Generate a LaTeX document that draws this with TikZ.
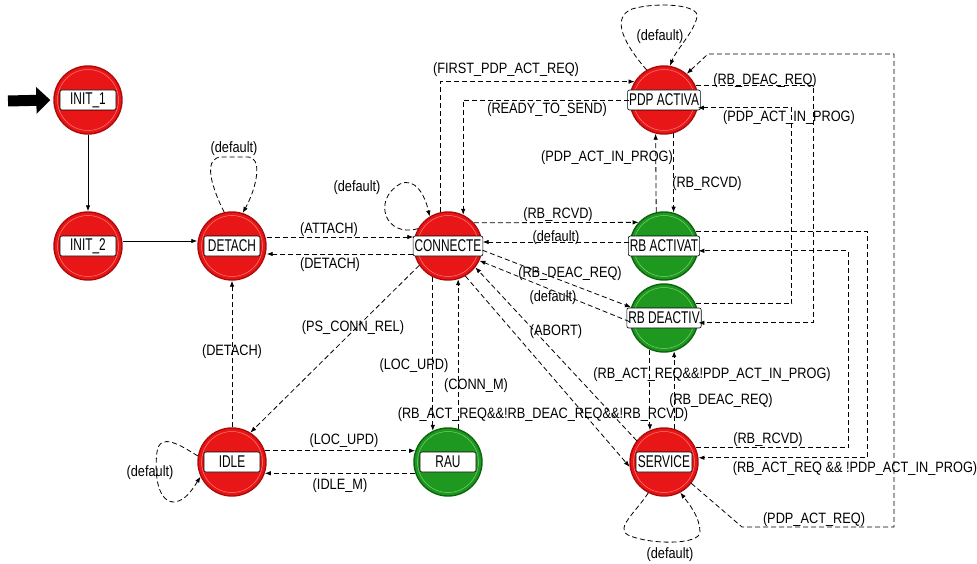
\documentclass[tikz,border=0pt]{standalone}
\usepackage{fontspec}
\setmainfont{Liberation Sans}
\usetikzlibrary{arrows.meta}
\definecolor{stred}{RGB}{232,22,22}
\definecolor{stredd}{RGB}{175,10,10}
\definecolor{stredl}{RGB}{255,125,125}
\definecolor{stgrn}{RGB}{30,152,30}
\definecolor{stgrnd}{RGB}{12,100,12}
\definecolor{stgrnl}{RGB}{120,210,120}
\newcommand\lbl[1]{\scalebox{0.85}[1]{#1}}
\newcommand\mkstate[5]{%
  \node[#4st] (#1) at (#2,#3) {};
  \draw[#4ring] (#1.center) circle[radius=30.5pt];
  \node[band] (#1-band) at (#1.center) {\scalebox{0.7}[1]{#5}};
}
\newcommand\elab[4]{\node[lab] (#1) at (#2,#3) {\lbl{#4}};}
\begin{document}
\begin{tikzpicture}[x=1pt,y=-1pt,
  redst/.style={circle, minimum size=68pt, inner sep=0pt, fill=stred, draw=stredd, line width=1.4pt},
  redring/.style={draw=stredl, line width=0.5pt},
  grnst/.style={circle, minimum size=68pt, inner sep=0pt, fill=stgrn, draw=stgrnd, line width=1.4pt},
  grnring/.style={draw=stgrnl, line width=0.5pt},
  band/.style={rectangle, rounded corners=2pt, fill=white, draw=black, line width=0.6pt,
    minimum width=56pt, minimum height=20pt, inner xsep=1.5pt, inner ysep=0pt,
    font=\fontsize{17}{18}\selectfont},
  lab/.style={inner sep=0pt, font=\fontsize{15}{17}\selectfont},
  dedge/.style={line width=0.8pt, dash pattern=on 5pt off 3pt, -{Latex[length=6pt,width=4.5pt]}},
  sedge/.style={line width=0.8pt, -{Latex[length=6pt,width=4.5pt]}},
]
\useasboundingbox[fill=white] (0,0) rectangle (977,564);

% states
\mkstate{init1}{88}{100}{red}{INIT\_1}
\mkstate{init2}{88}{246}{red}{INIT\_2}
\mkstate{detach}{232}{246}{red}{DETACH}
\mkstate{conn}{448}{246}{red}{CONNECTE}
\mkstate{pdp}{664}{100}{red}{PDP ACTIVA}
\mkstate{rbact}{664}{246}{grn}{RB ACTIVAT}
\mkstate{rbdeac}{664}{318}{grn}{RB DEACTIV}
\mkstate{idle}{232}{462}{red}{IDLE}
\mkstate{rau}{448}{462}{grn}{RAU}
\mkstate{service}{664}{462}{red}{SERVICE}

% initial arrow
\coordinate (start) at (8,101);
\draw[line width=11pt, -{Triangle[length=14pt,width=26pt]}] (start) -- ([xshift=-3pt]init1.west);

% connectors
\draw[sedge] (init1) -- (init2);
\draw[sedge] ([yshift=5pt]init2.east) -- ([yshift=5pt]detach.west);
\draw[dedge] (detach.103) .. controls (208,180) and (205,157) .. (222,157) -- (248,157) .. controls (262,157) and (258,185) .. (detach.72);
\draw[dedge] ([yshift=9pt]detach.east) -- ([yshift=9pt]conn.west);
\draw[dedge] ([yshift=-8pt]conn.west) -- ([yshift=-8pt]detach.east);
\draw[dedge] (conn.150) .. controls (385,238) and (372,200) .. (400,184) .. controls (415,177) and (425,195) .. (conn.122);
\draw[dedge] (idle) -- (detach);
\draw[dedge] (conn.214) -- (idle.58);
\draw[dedge] (conn.-116) -- (rau.116);
\draw[dedge] (rau.73) -- (conn.-73);
\draw[dedge] (conn.-60) -- (service.188);
\draw[dedge] (service.142) -- (conn.-38);
\draw[dedge] (conn.42.6) -- (rbact.137.4);
\draw[dedge] ([yshift=4pt]rbact.west) -- ([yshift=4pt]conn.east);
\draw[dedge] (conn.-7) -- (rbdeac.162);
\draw[dedge] (rbdeac.186) -- (conn.-25);
\draw[dedge] (conn.102) |- (pdp.148);
\draw[dedge] (pdp.west) -| (conn.64);
\draw[dedge] (rbact.103.6) -- (pdp.256.4);
\draw[dedge] (pdp.-74.6) -- (rbact.74.6);
\draw[dedge] (pdp.120) .. controls (625,45) and (610,18) .. (632,9) .. controls (655,2) and (700,4) .. (697,17) .. controls (694,32) and (676,50) .. (pdp.80);
\draw[dedge] (rbdeac.24) -| ([xshift=94pt]pdp.-13.6) -- (pdp.-13.6);
\draw[dedge] (pdp.24) -| ([xshift=115pt]rbdeac.-8.5) -- (rbdeac.-8.5);
\draw[dedge] (service.-38) -- (742,527) -- (894,527) -- (894,54) -- (708,54) -- (pdp.49);
\draw[dedge] (rbact.24) -| ([xshift=169pt]service.7) -- (service.7);
\draw[dedge] (service.24) -| ([xshift=150pt]rbact.-8.5) -- (rbact.-8.5);
\draw[dedge] (rbdeac.-114.3) -- (service.114.3);
\draw[dedge] (service.73) -- (rbdeac.-73);
\draw[dedge] (idle.19) -- (rau.161);
\draw[dedge] (rau.199) -- (idle.-19);
\draw[dedge] (idle.170) .. controls (180,445) and (160,432) .. (157,452) .. controls (154,475) and (158,503) .. (175,502) .. controls (186,500) and (192,490) .. (idle.205);
\draw[dedge] (service.-117) .. controls (636,512) and (615,528) .. (628,535) .. controls (650,545) and (700,545) .. (700,532) .. controls (700,518) and (690,505) .. (service.-62);

% labels
\elab{lDefDet}{234}{149}{(default)}
\elab{lAttach}{329}{230}{(ATTACH)}
\elab{lDetachA}{330}{265}{(DETACH)}
\elab{lDefConn}{357}{188}{(default)}
\elab{lDetachB}{232}{352}{(DETACH)}
\elab{lPsConn}{353}{328}{(PS\_CONN\_REL)}
\elab{lLocUpdA}{414}{366}{(LOC\_UPD)}
\elab{lConnM}{476}{386}{(CONN\_M)}
\elab{lRbActReqA}{543}{415}{(RB\_ACT\_REQ\&\&!RB\_DEAC\_REQ\&\&!RB\_RCVD)}
\elab{lAbort}{556}{332}{(ABORT)}
\elab{lRbRcvdA}{558}{215}{(RB\_RCVD)}
\elab{lDefRbAct}{556}{238}{(default)}
\elab{lRbDeacReqA}{570}{274}{(RB\_DEAC\_REQ)}
\elab{lDefRbDeac}{553}{298}{(default)}
\elab{lFirst}{506}{70}{(FIRST\_PDP\_ACT\_REQ)}
\elab{lReady}{547}{110}{(READY\_TO\_SEND)}
\elab{lPdpInProgA}{607}{158}{(PDP\_ACT\_IN\_PROG)}
\elab{lRbRcvdB}{707}{184}{(RB\_RCVD)}
\elab{lDefPdp}{660}{37}{(default)}
\elab{lRbDeacReqB}{765}{81}{(RB\_DEAC\_REQ)}
\elab{lPdpInProgB}{789}{118}{(PDP\_ACT\_IN\_PROG)}
\elab{lRbActReqB}{712}{375}{(RB\_ACT\_REQ\&\&!PDP\_ACT\_IN\_PROG)}
\elab{lRbDeacReqC}{721}{401}{(RB\_DEAC\_REQ)}
\elab{lRbRcvdC}{768}{440}{(RB\_RCVD)}
\elab{lRbActReqC}{855}{469}{(RB\_ACT\_REQ \&\& !PDP\_ACT\_IN\_PROG)}
\elab{lPdpActReq}{814}{520}{(PDP\_ACT\_REQ)}
\elab{lDefServ}{670}{555}{(default)}
\elab{lLocUpdB}{344}{441}{(LOC\_UPD)}
\elab{lIdleM}{340}{486}{(IDLE\_M)}
\elab{lDefIdle}{150}{473}{(default)}
\end{tikzpicture}
\end{document}
